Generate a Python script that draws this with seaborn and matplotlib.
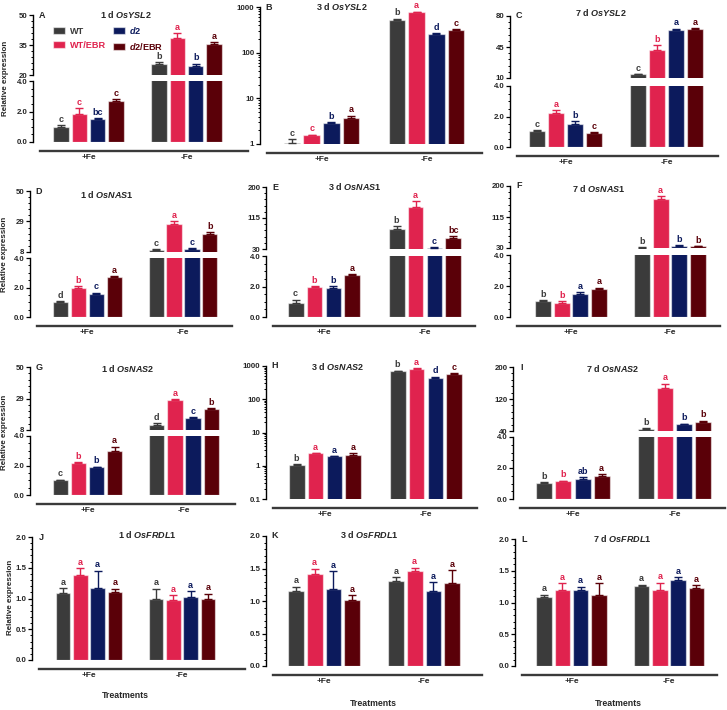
import numpy as np
import pandas as pd
import matplotlib
matplotlib.use("Agg")
import matplotlib.pyplot as plt
import seaborn as sns
from matplotlib.ticker import AutoMinorLocator, LogLocator, NullFormatter, FixedLocator
from matplotlib.patches import Patch
from matplotlib.container import BarContainer

# ---------------- data ----------------
treatments = ["+Fe", "-Fe"]
genotypes = ["WT", "WT/EBR", "d2", "d2/EBR"]
palette = ["#3b3b3b", "#e0234e", "#0c1a5c", "#5a0008"]

# order: +Fe (WT, WT/EBR, d2, d2/EBR), -Fe (WT, WT/EBR, d2, d2/EBR)
ysl2_d1_mean = [1.0, 1.85, 1.5, 2.7, 25.3, 38.3, 24.5, 35.7]
ysl2_d1_sem = [0.1, 0.35, 0.05, 0.1, 1.2, 2.5, 1.2, 0.6]
ysl2_d1_sig = ["c", "c", "bc", "c", "b", "a", "b", "a"]

ysl2_d3_mean = [1.07, 1.55, 2.87, 3.69, 526, 771, 255, 318]
ysl2_d3_sem = [0.2, 0.05, 0.1, 0.45, 25, 20, 12, 10]
ysl2_d3_sig = ["c", "c", "b", "a", "b", "a", "d", "c"]

ysl2_d7_mean = [1.05, 2.23, 1.5, 0.94, 14.1, 41.6, 64.0, 65.8]
ysl2_d7_sem = [0.05, 0.17, 0.2, 0.03, 0.5, 5.3, 1.5, 0.4]
ysl2_d7_sig = ["c", "a", "b", "c", "c", "b", "a", "a"]

nas1_d1_mean = [1.03, 2.0, 1.58, 2.72, 9.1, 27.5, 10.3, 20.6]
nas1_d1_sem = [0.03, 0.1, 0.07, 0.06, 0.7, 1.6, 0.45, 1.2]
nas1_d1_sig = ["d", "b", "c", "a", "c", "a", "c", "b"]

nas1_d3_mean = [0.95, 1.98, 1.87, 2.73, 84.8, 144, 31.8, 60.2]
nas1_d3_sem = [0.19, 0.06, 0.17, 0.06, 7.2, 17, 2.8, 4.5]
nas1_d3_sig = ["c", "b", "b", "a", "b", "a", "c", "bc"]

nas1_d7_mean = [1.06, 0.93, 1.47, 1.79, 30.9, 163.8, 36.3, 34.5]
nas1_d7_sem = [0.02, 0.09, 0.15, 0.11, 0.5, 8.2, 1.7, 0.9]
nas1_d7_sig = ["b", "b", "a", "a", "b", "a", "b", "b"]

nas2_d1_mean = [1.0, 2.18, 1.87, 3.0, 11.35, 28.1, 16.0, 22.1]
nas2_d1_sem = [0.03, 0.06, 0.06, 0.27, 1.1, 0.3, 0.7, 0.4]
nas2_d1_sig = ["c", "b", "b", "a", "d", "a", "c", "b"]

nas2_d3_mean = [1.07, 2.35, 1.91, 2.05, 698, 822, 450, 594]
nas2_d3_sem = [0.03, 0.05, 0.05, 0.3, 20, 25, 30, 10]
nas2_d3_sig = ["b", "a", "a", "a", "b", "a", "d", "c"]

nas2_d7_mean = [1.03, 1.16, 1.27, 1.5, 45.8, 148.3, 56.7, 63.3]
nas2_d7_sem = [0.07, 0.02, 0.15, 0.11, 1.7, 10, 1.6, 2.5]
nas2_d7_sig = ["b", "b", "ab", "a", "b", "a", "b", "b"]

frdl1_d1_mean = [1.09, 1.39, 1.17, 1.11, 0.99, 0.97, 1.02, 1.0]
frdl1_d1_sem = [0.08, 0.1, 0.28, 0.05, 0.17, 0.08, 0.1, 0.08]
frdl1_d1_sig = ["a"] * 8

frdl1_d3_mean = [1.15, 1.41, 1.18, 1.02, 1.31, 1.46, 1.15, 1.28]
frdl1_d3_sem = [0.07, 0.09, 0.28, 0.07, 0.06, 0.05, 0.14, 0.19]
frdl1_d3_sig = ["a"] * 8

frdl1_d7_mean = [1.09, 1.2, 1.2, 1.12, 1.26, 1.2, 1.35, 1.23]
frdl1_d7_sem = [0.03, 0.1, 0.05, 0.18, 0.02, 0.11, 0.05, 0.04]
frdl1_d7_sig = ["a"] * 8

# ---------------- style ----------------
sns.set_theme(style="ticks")
plt.rcParams["font.family"] = ["Liberation Sans", "DejaVu Sans"]
plt.rcParams["font.weight"] = "bold"
plt.rcParams["mathtext.fontset"] = "custom"
plt.rcParams["mathtext.rm"] = "Liberation Sans:bold"
plt.rcParams["mathtext.it"] = "Liberation Sans:italic:bold"
plt.rcParams["mathtext.bf"] = "Liberation Sans:bold"

W, H = 727, 710
fig = plt.figure(figsize=(W / 100, H / 100), dpi=100)


def rect(l, r, t, b):
    return [l / W, 1 - b / H, (r - l) / W, (b - t) / H]


def frame(mean):
    return pd.DataFrame({
        "Treatment": np.repeat(treatments, 4),
        "Genotype": genotypes * 2,
        "Expression": mean,
    })


def bars(ax, mean):
    sns.barplot(data=frame(mean), x="Treatment", y="Expression", hue="Genotype",
                order=treatments, hue_order=genotypes, palette=palette,
                saturation=1, errorbar=None, width=0.75, gap=0.16, legend=False,
                edgecolor=(1, 1, 1, 0.55), linewidth=0.9, ax=ax)
    ax.set_xlabel("")
    ax.set_ylabel("")
    ax.patch.set_alpha(0)


def style_x(ax, L, bottom=True):
    s = L["cm"] - L["cp"]
    x0 = -(L["cp"] - L["left"]) / s
    x1 = 1 + (L["right"] - L["cm"]) / s
    ax.set_xlim(x0, x1)
    for sp in ("top", "right"):
        ax.spines[sp].set_visible(False)
    ax.spines["left"].set_color("black")
    ax.spines["left"].set_linewidth(1.0)
    ax.tick_params(axis="y", which="major", length=3, width=0.9, labelsize=5.7,
                   pad=1, color="black", direction="out", left=True)
    ax.tick_params(axis="y", which="minor", length=1.6, width=0.7, color="black",
                   direction="out", left=True)
    if bottom:
        ax.spines["bottom"].set_position(("outward", 6.3))
        ax.spines["bottom"].set_bounds(x0 + 7 / s, x1)
        ax.spines["bottom"].set_linewidth(1.7)
        ax.spines["bottom"].set_color("#3a3a3a")
        ax.tick_params(axis="x", length=0, pad=2.5, labelsize=6)
    else:
        ax.spines["bottom"].set_visible(False)
        ax.tick_params(axis="x", bottom=False, labelbottom=False)


def marks(axes, mean, sem, sig, split=None):
    ref = axes[0]
    conts = [c for c in ref.containers if isinstance(c, BarContainer)]
    for h, cont in enumerate(conts):
        for bar in list(cont.patches):
            x = bar.get_x() + bar.get_width() / 2
            t = int(round(x))
            i = t * 4 + h
            top = mean[i] + sem[i]
            ax = axes[0] if (split is None or top <= split) else axes[1]
            ax.errorbar([x], [mean[i]], yerr=[[0], [sem[i]]], fmt="none",
                        ecolor=palette[h], elinewidth=1.0, capsize=2.8, capthick=1.0)
            ax.annotate(sig[i], (x, top), xytext=(0, 1.0), textcoords="offset points",
                        ha="center", va="bottom", color=palette[h], fontsize=6.5,
                        fontweight="bold", annotation_clip=False)


panels = [
    dict(letter="A", day="1 d", gene="OsYSL2", d=(ysl2_d1_mean, ysl2_d1_sem, ysl2_d1_sig),
         left=33, right=248, cp=88.5, cm=186.5, ys=(15, 75, 81, 142), hi=(20, 50), title=(126, 15)),
    dict(letter="B", day="3 d", gene="OsYSL2", d=(ysl2_d3_mean, ysl2_d3_sem, ysl2_d3_sig),
         left=260, right=482, cp=321.5, cm=426.5, ys=(7, 144), log=(1, 1000), title=(342, 7)),
    dict(letter="C", day="7 d", gene="OsYSL2", d=(ysl2_d7_mean, ysl2_d7_sem, ysl2_d7_sig),
         left=510, right=718, cp=565.7, cm=666.7, ys=(16, 78, 86, 147), hi=(10, 80), title=(601, 12)),
    dict(letter="D", day="1 d", gene="OsNAS1", d=(nas1_d1_mean, nas1_d1_sem, nas1_d1_sig),
         left=30, right=232, cp=87.3, cm=183, ys=(191, 252, 258, 317), hi=(8, 50), title=(107, 194)),
    dict(letter="E", day="3 d", gene="OsNAS1", d=(nas1_d3_mean, nas1_d3_sem, nas1_d3_sig),
         left=266, right=475, cp=324, cm=425, ys=(187, 249, 256, 317), hi=(30, 200), title=(355, 186)),
    dict(letter="F", day="7 d", gene="OsNAS1", d=(nas1_d7_mean, nas1_d7_sem, nas1_d7_sig),
         left=510, right=720, cp=571, cm=670, ys=(186, 248, 255, 317), hi=(30, 200), title=(599, 188)),
    dict(letter="G", day="1 d", gene="OsNAS2", d=(nas2_d1_mean, nas2_d1_sem, nas2_d1_sig),
         left=30, right=235, cp=87.5, cm=184, ys=(367, 430, 436, 495), hi=(8, 50), title=(128, 369)),
    dict(letter="H", day="3 d", gene="OsNAS2", d=(nas2_d3_mean, nas2_d3_sem, nas2_d3_sig),
         left=266, right=477, cp=325, cm=426, ys=(366, 499), log=(0.1, 1000), title=(338, 366)),
    dict(letter="I", day="7 d", gene="OsNAS2", d=(nas2_d7_mean, nas2_d7_sem, nas2_d7_sig),
         left=513, right=725, cp=573, cm=674.5, ys=(367, 431, 437, 499), hi=(40, 200), title=(613, 369)),
    dict(letter="J", day="1 d", gene="OsFRDL1", d=(frdl1_d1_mean, frdl1_d1_sem, frdl1_d1_sig),
         left=32, right=245, cp=89, cm=182, ys=(537, 660), lin=(0, 2), title=(147, 535)),
    dict(letter="K", day="3 d", gene="OsFRDL1", d=(frdl1_d3_mean, frdl1_d3_sem, frdl1_d3_sig),
         left=266, right=482, cp=324, cm=424, ys=(536, 666), lin=(0, 2), title=(369, 535)),
    dict(letter="L", day="7 d", gene="OsFRDL1", d=(frdl1_d7_mean, frdl1_d7_sem, frdl1_d7_sig),
         left=515, right=717, cp=571.5, cm=669, ys=(539, 666), lin=(0, 2), title=(622, 538)),
]

for P in panels:
    mean, sem, sig = P["d"]
    if "hi" in P:
        t, ub, lt, b = P["ys"]
        ax_up = fig.add_axes(rect(P["left"], P["right"], t, ub))
        ax_lo = fig.add_axes(rect(P["left"], P["right"], lt, b))
        bars(ax_up, mean)
        bars(ax_lo, mean)
        lo, hi = P["hi"]
        ax_up.set_ylim(lo, hi)
        ax_up.set_yticks([lo, (lo + hi) / 2, hi])
        ax_up.set_yticklabels([f"{v:g}" for v in [lo, (lo + hi) / 2, hi]])
        ax_up.yaxis.set_minor_locator(AutoMinorLocator(5))
        ax_lo.set_ylim(0, 4)
        ax_lo.set_yticks([0, 2, 4])
        ax_lo.set_yticklabels(["0.0", "2.0", "4.0"])
        ax_lo.yaxis.set_minor_locator(AutoMinorLocator(4))
        style_x(ax_up, P, bottom=False)
        style_x(ax_lo, P, bottom=True)
        marks([ax_lo, ax_up], mean, sem, sig, split=4)
    else:
        t, b = P["ys"]
        ax = fig.add_axes(rect(P["left"], P["right"], t, b))
        bars(ax, mean)
        if "log" in P:
            ax.set_yscale("log", nonpositive="clip")
            lo, hi = P["log"]
            ax.set_ylim(lo, hi)
            ticks = [v for v in [0.1, 1, 10, 100, 1000] if lo <= v <= hi]
            ax.yaxis.set_major_locator(FixedLocator(ticks))
            ax.set_yticklabels([f"{v:g}" for v in ticks])
            ax.yaxis.set_minor_locator(LogLocator(base=10, subs=np.arange(2, 10), numticks=20))
            ax.yaxis.set_minor_formatter(NullFormatter())
        else:
            ax.set_ylim(0, 2)
            ax.set_yticks([0, 0.5, 1.0, 1.5, 2.0])
            ax.set_yticklabels(["0.0", "0.5", "1.0", "1.5", "2.0"])
            ax.yaxis.set_minor_locator(AutoMinorLocator(5))
        style_x(ax, P, bottom=True)
        marks([ax], mean, sem, sig)

    # panel letter and title
    fig.text((P["left"] + 9) / W, 1 - P["ys"][0] / H, P["letter"], fontsize=6.5,
             fontweight="bold", ha="center", va="center")
    tx, ty = P["title"]
    fig.text(tx / W, 1 - ty / H, P["day"] + " $\\mathit{" + P["gene"] + "}$",
             fontsize=6.5, fontweight="bold", ha="center", va="center")

# y labels
for (x, y) in [(6, 78), (5, 254), (5, 432), (11, 597)]:
    fig.text(x / W, 1 - y / H, "Relative expression", rotation=90, fontsize=5.8,
             fontweight="bold", ha="center", va="center")

# x labels
for (x, y) in [(125, 696), (373, 703), (618, 703)]:
    fig.text(x / W, 1 - y / H, "Treatments", fontsize=6.3, fontweight="bold",
             ha="center", va="center")

# legend in panel A
handles = [Patch(facecolor=c, edgecolor=(1, 1, 1, 0.55), linewidth=0.9) for c in palette]
labels = ["WT", "WT/EBR", "$\\mathit{d2}$", "$\\mathit{d2}$/EBR"]
leg = fig.legend(handles, labels, ncol=2, loc="upper left",
                 bbox_to_anchor=(53 / W, 1 - 25 / H), frameon=False, borderpad=0,
                 borderaxespad=0, handlelength=1.3, handleheight=0.8,
                 handletextpad=0.5, columnspacing=0.8, labelspacing=0.5,
                 prop={"weight": "bold", "size": 6.6})
for txt, c in zip(leg.get_texts(), palette):
    txt.set_color(c)

fig.savefig("out.png", dpi=100)
